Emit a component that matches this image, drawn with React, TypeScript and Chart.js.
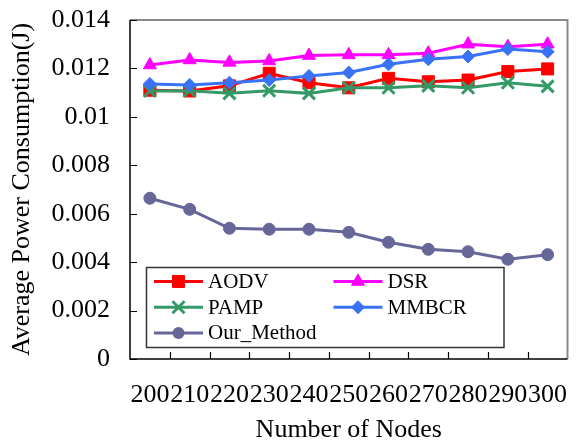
import React, { useEffect, useRef } from "react";
import Chart from "chart.js/auto";

const categories = ["200", "210", "220", "230", "240", "250", "260", "270", "280", "290", "300"];
const aodv = [0.0111, 0.01107, 0.01128, 0.0118, 0.01141, 0.0112, 0.01159, 0.01145, 0.01152, 0.01187, 0.01198];
const dsr = [0.01214, 0.01235, 0.01225, 0.01231, 0.01253, 0.01256, 0.01256, 0.01263, 0.013, 0.0129, 0.013];
const pamp = [0.01107, 0.01108, 0.01097, 0.01108, 0.01097, 0.0112, 0.0112, 0.01128, 0.0112, 0.01141, 0.01126];
const mmbcr = [0.01136, 0.01132, 0.01141, 0.01152, 0.01169, 0.01183, 0.01217, 0.01238, 0.01249, 0.0128, 0.01269];
const ourMethod = [0.00664, 0.00618, 0.0054, 0.00536, 0.00536, 0.00523, 0.00482, 0.00453, 0.00443, 0.00412, 0.00431];
const yTicks = [0, 0.002, 0.004, 0.006, 0.008, 0.01, 0.012, 0.014];

const FONT = "'Liberation Serif', 'Times New Roman', serif";

function drawMarker(ctx: CanvasRenderingContext2D, style: string, x: number, y: number, r: number, color: string) {
  ctx.save();
  ctx.fillStyle = color;
  ctx.strokeStyle = color;
  ctx.lineWidth = 1;
  ctx.beginPath();
  if (style === "rect") {
    const s = Math.SQRT1_2 * r;
    ctx.rect(x - s, y - s, 2 * s, 2 * s);
    ctx.fill();
    ctx.stroke();
  } else if (style === "triangle") {
    const h = r * Math.sin(Math.PI / 3);
    ctx.moveTo(x - h, y + r / 2);
    ctx.lineTo(x + h, y + r / 2);
    ctx.lineTo(x, y - r);
    ctx.closePath();
    ctx.fill();
    ctx.stroke();
  } else if (style === "rectRot") {
    ctx.moveTo(x - r, y);
    ctx.lineTo(x, y - r);
    ctx.lineTo(x + r, y);
    ctx.lineTo(x, y + r);
    ctx.closePath();
    ctx.fill();
    ctx.stroke();
  } else if (style === "crossRot") {
    const d = Math.SQRT1_2 * r;
    ctx.lineWidth = 3;
    ctx.moveTo(x - d, y - d);
    ctx.lineTo(x + d, y + d);
    ctx.moveTo(x + d, y - d);
    ctx.lineTo(x - d, y + d);
    ctx.stroke();
  } else {
    ctx.arc(x, y, r, 0, Math.PI * 2);
    ctx.fill();
  }
  ctx.restore();
}

const framePlugin = {
  id: "framePlugin",
  afterDraw(chart: any) {
    const ctx: CanvasRenderingContext2D = chart.ctx;
    const { left, right, top, bottom } = chart.chartArea;
    const xs = chart.scales.x;
    const ys = chart.scales.y;
    ctx.save();
    ctx.strokeStyle = "#8a8a8a";
    ctx.lineWidth = 2;
    ctx.beginPath();
    ctx.moveTo(left, top);
    ctx.lineTo(right, top);
    ctx.lineTo(right, bottom);
    ctx.stroke();
    ctx.strokeStyle = "#000";
    ctx.lineWidth = 1.5;
    ctx.beginPath();
    ctx.moveTo(left, top);
    ctx.lineTo(left, bottom);
    ctx.lineTo(right, bottom);
    ctx.stroke();
    ctx.lineWidth = 1.2;
    ctx.beginPath();
    yTicks.forEach((v) => {
      const py = Math.round(ys.getPixelForValue(v)) + 0.5;
      ctx.moveTo(left, py);
      ctx.lineTo(left + 7, py);
    });
    for (let i = 0; i < categories.length - 1; i++) {
      const px = Math.round((xs.getPixelForValue(i) + xs.getPixelForValue(i + 1)) / 2) + 0.5;
      ctx.moveTo(px, bottom);
      ctx.lineTo(px, bottom - 7);
    }
    ctx.stroke();

    const bx = left + 16.5;
    const by = bottom - 91.5;
    const bw = 357.5;
    const bh = 80;
    ctx.fillStyle = "#fff";
    ctx.fillRect(bx, by, bw, bh);
    ctx.strokeStyle = "#333";
    ctx.lineWidth = 1.5;
    ctx.strokeRect(bx, by, bw, bh);
    const ds = chart.data.datasets;
    ds.forEach((d: any, i: number) => {
      const col = i % 2;
      const row = Math.floor(i / 2);
      const x0 = bx + 7.5 + col * 179.5;
      const y0 = by + 14 + row * 25.7;
      ctx.strokeStyle = d.borderColor;
      ctx.lineWidth = 3;
      ctx.beginPath();
      ctx.moveTo(x0, y0);
      ctx.lineTo(x0 + 49, y0);
      ctx.stroke();
      drawMarker(ctx, d.pointStyle, x0 + 24.5, y0, d.pointRadius, d.borderColor);
      ctx.fillStyle = "#000";
      ctx.font = `21px ${FONT}`;
      ctx.textBaseline = "middle";
      ctx.textAlign = "left";
      ctx.fillText(d.label, x0 + 54, y0 + 1);
    });
    ctx.restore();
  },
};

export default function App() {
  const ref = useRef<HTMLCanvasElement>(null);
  useEffect(() => {
    if (!ref.current) return;
    const mk = (label: string, data: number[], color: string, pointStyle: string, r: number, order: number) => ({
      label,
      data,
      borderColor: color,
      backgroundColor: color,
      pointBackgroundColor: color,
      pointBorderColor: color,
      pointStyle,
      pointRadius: r,
      pointHoverRadius: r,
      pointBorderWidth: pointStyle === "crossRot" ? 3 : 1,
      borderWidth: 3,
      tension: 0,
      order,
      clip: false,
    });
    const chart = new Chart(ref.current, {
      type: "line",
      data: {
        labels: categories,
        datasets: [
          mk("AODV", aodv, "#ff0000", "rect", 8.5, 5),
          mk("DSR", dsr, "#ff00ff", "triangle", 7.5, 4),
          mk("PAMP", pamp, "#339966", "crossRot", 8.5, 3),
          mk("MMBCR", mmbcr, "#3a72f5", "rectRot", 6.5, 2),
          mk("Our_Method", ourMethod, "#666699", "circle", 6, 1),
        ] as any,
      },
      options: {
        responsive: false,
        animation: false,
        devicePixelRatio: 1,
        layout: { padding: { top: 20, right: 2, left: 0, bottom: 0 } },
        plugins: { legend: { display: false }, tooltip: { enabled: false } },
        scales: {
          x: {
            type: "category",
            offset: true,
            grid: { display: false },
            border: { display: false },
            ticks: {
              autoSkip: false,
              maxRotation: 0,
              minRotation: 0,
              padding: 13,
              color: "#000",
              font: { family: FONT, size: 26 },
            },
            title: {
              display: true,
              text: "Number of Nodes",
              color: "#000",
              font: { family: FONT, size: 26 },
              padding: { top: 0, bottom: 1 },
            },
            afterFit: (s: any) => {
              s.height = 88;
              s.paddingLeft = 0;
              s.paddingRight = 0;
            },
          },
          y: {
            min: 0,
            max: 0.014,
            grid: { display: false, drawTicks: false },
            border: { display: false },
            ticks: {
              stepSize: 0.002,
              padding: 20,
              color: "#000",
              font: { family: FONT, size: 26 },
              callback: (v: any) => String(+Number(v).toFixed(3)),
            },
            title: {
              display: true,
              text: "Average Power Consumption(J)",
              color: "#000",
              font: { family: FONT, size: 26 },
              padding: { top: 7, bottom: 0 },
            },
            afterFit: (s: any) => {
              s.width = 130;
              s.paddingTop = 0;
              s.paddingBottom = 0;
            },
          },
        },
      },
      plugins: [framePlugin],
    });
    return () => chart.destroy();
  }, []);
  return (
    <div style={{ position: "absolute", left: 0, top: 0, width: 579, height: 447, background: "#fff" }}>
      <canvas ref={ref} width={579} height={447} style={{ display: "block" }} />
    </div>
  );
}
